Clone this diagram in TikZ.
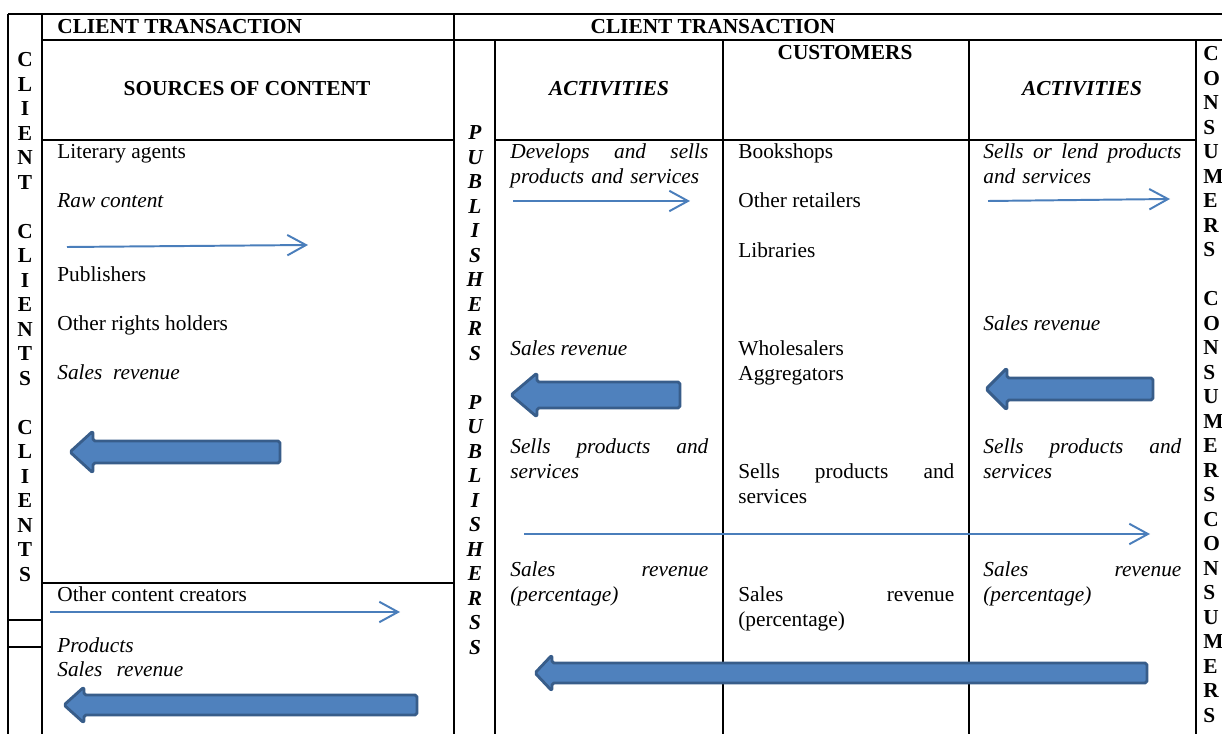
\documentclass[tikz,border=0pt]{standalone}
\usepackage{fontspec}
\setmainfont{Liberation Serif}
\usepackage{tikz}
\usetikzlibrary{arrows.meta}

\definecolor{linkblue}{RGB}{74,126,187}
\definecolor{arrowfill}{RGB}{79,129,189}
\definecolor{arrowedge}{RGB}{56,93,138}

\begin{document}
\begin{tikzpicture}[
        x=0.5625pt, y=-0.5625pt,
        % Đường kẻ bảng
        rule/.style={
            draw=black,
            line width=1.1pt
        },
        % Chữ thường trong ô
        celltext/.style={
            anchor=base west,
            inner sep=0pt,
            font=\fontsize{12}{13.78}\selectfont
        },
        % Chữ nghiêng trong ô
        cellit/.style={
            celltext,
            font=\fontsize{12}{13.78}\selectfont\itshape
        },
        % Đoạn hai dòng căn đều
        cellpara/.style={
            text width=#1,
            align=left
        },
        % Tiêu đề đậm
        headtext/.style={
            anchor=base,
            inner sep=0pt,
            font=\fontsize{12}{13.78}\selectfont\bfseries
        },
        % Chữ dọc từng ký tự
        vertword/.style={
            anchor=base,
            inner sep=0pt,
            text width=20pt,
            align=center,
            font=\fontsize{12}{13.78}\selectfont\bfseries
        },
        % Mũi tên mảnh
        thinarrow/.style={
            draw=linkblue,
            line width=1.1pt,
            -{Straight Barb[length=10.5pt, width=11.5pt]}
        },
        % Mũi tên khối
        bigarrow/.style={
            draw=arrowedge,
            fill=arrowfill,
            line width=1.6pt,
            line join=round,
            rounded corners=1pt
        }
    ]

        \useasboundingbox (0,0) rectangle (1222,734);
        \fill[white] (0,0) rectangle (1222,734);
        \clip (0,0) rectangle (1222,734);

        % --- KHUNG BẢNG ---
        \draw[rule] (8,14) -- (1240,14);
        \draw[rule] (42,40) -- (1240,40);
        \draw[rule] (42,140) -- (454,140);
        \draw[rule] (495,140) -- (1196,140);
        \draw[rule] (42,583) -- (454,583);
        \draw[rule] (8,620) -- (42,620);
        \draw[rule] (8,647) -- (42,647);

        \draw[rule] (8,14) -- (8,740);
        \draw[rule] (42,14) -- (42,740);
        \draw[rule] (454,14) -- (454,740);
        \draw[rule] (495,40) -- (495,740);
        \draw[rule] (723,40) -- (723,740);
        \draw[rule] (969,40) -- (969,740);
        \draw[rule] (1196,40) -- (1196,740);

        % --- TIÊU ĐỀ ---
        \node[headtext, anchor=base west] (trleft) at (57,34) {CLIENT TRANSACTION};
        \node[headtext] (trright) at (713,34) {CLIENT TRANSACTION};
        \node[headtext] (srchead) at (247,96) {SOURCES OF CONTENT};
        \node[headtext, font=\fontsize{12}{13.78}\selectfont\bfseries\itshape] (acthead) at (609,96) {ACTIVITIES};
        \node[headtext] (custhead) at (845,60) {CUSTOMERS};
        \node[headtext, font=\fontsize{12}{13.78}\selectfont\bfseries\itshape] (acthead2) at (1082,96) {ACTIVITIES};

        % --- CỘT CHỮ DỌC ---
        \node[vertword] (clientcol) at (25,67)
            {C\\L\\I\\E\\N\\T\\[13.78pt]C\\L\\I\\E\\N\\T\\S\\[13.78pt]C\\L\\I\\E\\N\\T\\S};
        \node[vertword, font=\fontsize{12}{13.78}\selectfont\bfseries\itshape] (pubcol) at (475,140)
            {P\\U\\B\\L\\I\\S\\H\\E\\R\\S\\[13.78pt]P\\U\\B\\L\\I\\S\\H\\E\\R\\S\\S};
        \node[vertword, anchor=base west, align=left] (conscol) at (1203,61)
            {C\\O\\N\\S\\U\\M\\E\\R\\S\\[13.78pt]C\\O\\N\\S\\U\\M\\E\\R\\S\\C\\O\\N\\S\\U\\M\\E\\R\\S};

        % --- NGUỒN NỘI DUNG ---
        \node[celltext] (agents) at (57,159) {Literary agents};
        \node[cellit] (raw) at (57,208) {Raw content};
        \node[celltext] (pubs) at (57,282) {Publishers};
        \node[celltext] (holders) at (57,331) {Other rights holders};
        \node[cellit] (revsrc) at (57,380) {Sales\ \ revenue};
        \node[celltext] (creators) at (57,602) {Other content creators};
        \node[cellit, cellpara=150pt] (products) at (57,652) {Products\\Sales\ \ revenue};

        % --- HOẠT ĐỘNG (NXB) ---
        \node[cellit, cellpara=111.4pt] (develops) at (510,159)
            {Develops \hfill and \hfill sells\\products and services};
        \node[cellit] (revpub) at (510,356) {Sales revenue};
        \node[cellit, cellpara=111.4pt] (sellspub) at (510,454)
            {Sells \hfill products \hfill and\\services};
        \node[cellit, cellpara=111.4pt] (pctpub) at (510,577)
            {Sales \hfill revenue\\(percentage)};

        % --- KHÁCH HÀNG ---
        \node[celltext] (bookshops) at (738,159) {Bookshops};
        \node[celltext] (retailers) at (738,208) {Other retailers};
        \node[celltext] (libraries) at (738,258) {Libraries};
        \node[celltext, cellpara=121.5pt] (wholesale) at (738,356) {Wholesalers\\Aggregators};
        \node[celltext, cellpara=121.5pt] (sellscust) at (738,479)
            {Sells \hfill products \hfill and\\services};
        \node[celltext, cellpara=121.5pt] (pctcust) at (738,602)
            {Sales \hfill revenue\\(percentage)};

        % --- HOẠT ĐỘNG (KHÁCH HÀNG) ---
        \node[cellit, cellpara=111.4pt] (lends) at (983,159)
            {Sells \hfill or \hfill lend \hfill products\\and services};
        \node[cellit] (revcust) at (983,331) {Sales revenue};
        \node[cellit, cellpara=111.4pt] (sellscons) at (983,454)
            {Sells \hfill products \hfill and\\services};
        \node[cellit, cellpara=111.4pt] (pctcons) at (983,577)
            {Sales \hfill revenue\\(percentage)};

        % --- MŨI TÊN MẢNH ---
        \coordinate (rawfrom) at (67,247);
        \coordinate (rawto) at (308,245);
        \coordinate (othfrom) at (50,612);
        \coordinate (othto) at (400,612);
        \coordinate (devfrom) at (513,201);
        \coordinate (devto) at (690,201);
        \coordinate (lendfrom) at (988,201);
        \coordinate (lendto) at (1170,199);
        \coordinate (sellfrom) at (524,534);
        \coordinate (sellto) at (1150,534);

        \draw[thinarrow] (rawfrom) -- (rawto);
        \draw[thinarrow] (othfrom) -- (othto);
        \draw[thinarrow] (devfrom) -- (devto);
        \draw[thinarrow] (lendfrom) -- (lendto);
        \draw[thinarrow] (sellfrom) -- (sellto);

        % --- MŨI TÊN KHỐI (doanh thu) ---
        \coordinate (paysrc) at (70,452);
        \coordinate (payoth) at (64,705);
        \coordinate (paypub) at (511,395);
        \coordinate (paycust) at (986,389);
        \coordinate (paypct) at (535,673);

        \draw[bigarrow] (paysrc) -- ++(23,-21) -- ++(0,10) -- ++(187,0) -- ++(0,22) -- ++(-187,0) -- ++(0,10) -- cycle;
        \draw[bigarrow] (payoth) -- ++(20,-18) -- ++(0,8) -- ++(333,0) -- ++(0,20) -- ++(-333,0) -- ++(0,8) -- cycle;
        \draw[bigarrow] (paypub) -- ++(26,-22) -- ++(0,9) -- ++(143,0) -- ++(0,26) -- ++(-143,0) -- ++(0,9) -- cycle;
        \draw[bigarrow] (paycust) -- ++(21,-21) -- ++(0,10) -- ++(146,0) -- ++(0,22) -- ++(-146,0) -- ++(0,10) -- cycle;
        \draw[bigarrow] (paypct) -- ++(17,-18) -- ++(0,8) -- ++(595,0) -- ++(0,20) -- ++(-595,0) -- ++(0,8) -- cycle;

    \end{tikzpicture}
\end{document}
